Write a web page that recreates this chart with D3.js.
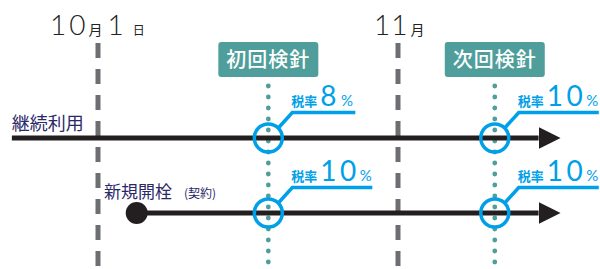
<!DOCTYPE html>
<html><head><meta charset="utf-8">
<script src="https://cdn.jsdelivr.net/npm/d3@7"></script>
<style>
html,body{margin:0;padding:0;background:#fff;}
svg{display:block;}
text{font-family:"Noto Sans CJK JP","Noto Sans",sans-serif;}
.num{font-family:"Lato","Open Sans","DejaVu Sans",sans-serif;}
</style></head>
<body>
<script>
// ---- data ----
const monthDays = [0, 31];                 // Oct 1, Nov 1 (day index)
const monthNum = ["10", "11"];
const monthDayNum = ["1", null];
const meterDays = [17.6, 41];              // meter reading days
const meterLabels = ["初回検針", "次回検針"];
const rowLabels = ["継続利用", "新規開栓"];
const rowSubLabels = [null, "(契約)"];
const rowStartDays = [-8.9, 4.0];
const rowStartDot = [false, true];
const lineEndDay = 47.8;
const taxRates = [[8, 10], [10, 10]];      // [row][meter]

// ---- layout ----
const W = 600, H = 269;
const svg = d3.select("body").append("svg").attr("width", W).attr("height", H);
const x = d3.scaleLinear().domain([0, 31]).range([98, 398]);
const y = d3.scalePoint().domain(rowLabels).range([138, 213]);

const gray = "#6d6e71", teal = "#4f9e9b", blue = "#00a0e9", ink = "#231f20", navy = "#2b2868";

// dashed month lines
svg.selectAll(".month").data(monthDays).join("line")
  .attr("x1", d => x(d)).attr("x2", d => x(d))
  .attr("y1", 43).attr("y2", H)
  .attr("stroke", gray).attr("stroke-width", 5).attr("stroke-dasharray", "15 11");

// month labels
const ml = svg.selectAll(".mlab").data(monthDays).join("text")
  .attr("x", (d, i) => x(d) + (monthDayNum[i] ? -48 : -24))
  .attr("y", 35).attr("fill", "#222");
ml.each(function(d, i) {
  const t = d3.select(this);
  t.append("tspan").attr("class", "num").attr("font-size", 28).attr("font-weight", 300)
    .attr("letter-spacing", monthDayNum[i] ? 3 : 1).text(monthNum[i]);
  t.append("tspan").attr("font-size", 14).attr("dx", monthDayNum[i] ? 0 : 2).text("月");
  if (monthDayNum[i]) {
    t.append("tspan").attr("class", "num").attr("font-size", 28).attr("font-weight", 300).attr("dx", 5).text(monthDayNum[i]);
    t.append("tspan").attr("font-size", 12).attr("dx", 9).text("日");
  }
});

// meter dotted lines
svg.selectAll(".meter").data(meterDays).join("line")
  .attr("x1", d => x(d)).attr("x2", d => x(d))
  .attr("y1", 86).attr("y2", H)
  .attr("stroke", teal).attr("stroke-width", 4.8).attr("stroke-linecap", "round")
  .attr("stroke-dasharray", "0 11");

// meter label boxes
const mb = svg.selectAll(".mbox").data(meterDays).join("g");
mb.append("rect").attr("x", d => x(d) - 50).attr("y", 42).attr("width", 100).attr("height", 35)
  .attr("rx", 3).attr("fill", teal);
mb.append("text").attr("x", d => x(d)).attr("y", 67).attr("text-anchor", "middle")
  .attr("fill", "#fff").attr("font-size", 20).attr("font-weight", 500)
  .attr("letter-spacing", 1)
  .text((d, i) => meterLabels[i]);

// arrowhead
svg.append("defs").append("marker").attr("id", "arr")
  .attr("viewBox", "0 0 10 10").attr("refX", 0).attr("refY", 5)
  .attr("markerUnits", "userSpaceOnUse").attr("markerWidth", 22).attr("markerHeight", 23)
  .attr("orient", "auto")
  .append("path").attr("d", "M0,0L10,5L0,10Z").attr("fill", ink);

// row lines
rowLabels.forEach((r, i) => {
  svg.append("line").attr("x1", x(rowStartDays[i])).attr("x2", x(lineEndDay) - 22)
    .attr("y1", y(r)).attr("y2", y(r)).attr("stroke", ink).attr("stroke-width", 5)
    .attr("marker-end", "url(#arr)");
  if (rowStartDot[i]) {
    svg.append("circle").attr("cx", x(rowStartDays[i])).attr("cy", y(r)).attr("r", 11).attr("fill", ink);
  }
});

// row labels
svg.append("text").attr("x", x(rowStartDays[0])).attr("y", 130)
  .attr("fill", navy).attr("font-size", 18).text(rowLabels[0]);
const nl = svg.append("text").attr("x", 104).attr("y", 198).attr("fill", navy);
nl.append("tspan").attr("font-size", 17).text(rowLabels[1]);
nl.append("tspan").attr("font-size", 12).attr("dx", 12).text(rowSubLabels[1]);

// circles & callouts
rowLabels.forEach((r, i) => {
  meterDays.forEach((m, j) => {
    const cx = x(m), cy = y(r);
    svg.append("circle").attr("cx", cx).attr("cy", cy).attr("r", 14)
      .attr("fill", "none").attr("stroke", blue).attr("stroke-width", 3.5);
    const rate = taxRates[i][j];
    const ly = cy - 25.5;
    const endX = cx + (rate >= 10 ? 104 : 87);
    svg.append("path").attr("d", `M${cx + 10},${cy - 10}L${cx + 24},${ly}H${endX}`)
      .attr("fill", "none").attr("stroke", blue).attr("stroke-width", 3.5);
    const t = svg.append("text").attr("x", cx + 23).attr("y", ly - 7).attr("fill", blue);
    t.append("tspan").attr("font-size", 13).attr("font-weight", 700).text("税率");
    t.append("tspan").attr("class", "num").attr("font-size", 28).attr("dx", 3).attr("font-weight", 400)
      .attr("letter-spacing", 3.5).text(String(rate));
    t.append("tspan").attr("class", "num").attr("font-size", 15).attr("dx", rate >= 10 ? 0 : 1).attr("font-weight", 400).text("%");
  });
});
</script>
</body></html>
